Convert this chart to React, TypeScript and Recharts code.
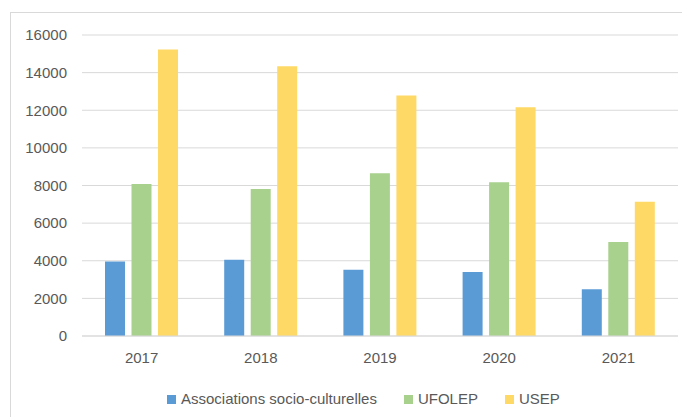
import React from "react";
import { BarChart, Bar, XAxis, YAxis, CartesianGrid, Legend } from "recharts";

const years = ["2017", "2018", "2019", "2020", "2021"];
const associations = [3960, 4056, 3526, 3404, 2481];
const ufolep = [8080, 7820, 8650, 8176, 4995];
const usep = [15228, 14343, 12789, 12153, 7132];
const yTicks = [0, 2000, 4000, 6000, 8000, 10000, 12000, 14000, 16000];

const seriesDefs = [
  { key: "assoc", name: "Associations socio-culturelles", color: "#5B9BD5" },
  { key: "ufolep", name: "UFOLEP", color: "#A9D18E" },
  { key: "usep", name: "USEP", color: "#FFD966" },
];

const data = years.map((y, i) => ({
  year: y,
  assoc: associations[i],
  ufolep: ufolep[i],
  usep: usep[i],
}));

const FONT = "'Liberation Sans', Arial, sans-serif";
const TEXT = "#595959";

const LegendContent = () => (
  <div
    style={{
      display: "flex",
      alignItems: "center",
      height: 24,
      paddingLeft: 159,
      fontFamily: FONT,
      fontSize: 15,
      color: TEXT,
      whiteSpace: "nowrap",
    }}
  >
    {seriesDefs.map((s, i) => (
      <div key={s.key} style={{ display: "flex", alignItems: "center", marginRight: i < seriesDefs.length - 1 ? 27 : 0 }}>
        <span style={{ display: "inline-block", width: 9, height: 9, background: s.color, marginRight: 5, marginTop: 2 }} />
        <span>{s.name}</span>
      </div>
    ))}
  </div>
);

export default function App() {
  return (
    <div style={{ position: "relative", width: 682, height: 409, overflow: "hidden", background: "#fff" }}>
      <div
        style={{
          position: "absolute",
          left: 2,
          top: 4,
          width: 740,
          height: 460,
          border: "1px solid #d9d9d9",
          boxSizing: "border-box",
        }}
      />
      <BarChart
        width={682}
        height={409}
        data={data}
        margin={{ top: 27, right: 12, left: 0, bottom: 7 }}
        barSize={20}
        barGap={6.5}
        style={{ position: "absolute", left: 0, top: 0 }}
      >
        <CartesianGrid vertical={false} stroke="#d9d9d9" strokeWidth={1} />
        <XAxis
          dataKey="year"
          height={50}
          tickLine={false}
          tickSize={0}
          tickMargin={16}
          axisLine={{ stroke: "#d9d9d9", strokeWidth: 1.2 }}
          tick={{ fill: TEXT, fontSize: 15, fontFamily: FONT }}
        />
        <YAxis
          width={74}
          domain={[0, 16000]}
          ticks={yTicks}
          interval={0}
          axisLine={false}
          tickLine={false}
          tickSize={0}
          tickMargin={15}
          tick={{ fill: TEXT, fontSize: 15, fontFamily: FONT }}
        />
        <Legend
          verticalAlign="bottom"
          height={24}
          content={<LegendContent />}
          wrapperStyle={{ left: 0, width: 682 }}
        />
        {seriesDefs.map((s) => (
          <Bar key={s.key} dataKey={s.key} name={s.name} fill={s.color} isAnimationActive={false} />
        ))}
      </BarChart>
    </div>
  );
}
